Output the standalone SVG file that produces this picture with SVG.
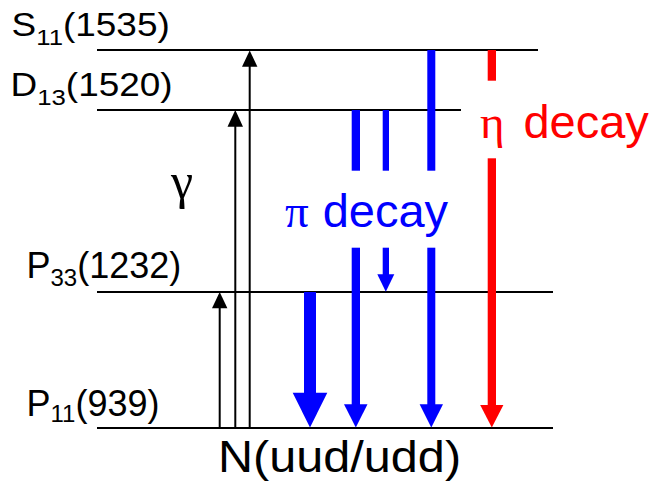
<svg xmlns="http://www.w3.org/2000/svg" width="654" height="483" viewBox="0 0 654 483">
<style>
.lvl{stroke:#000;stroke-width:2;fill:none}
.lab{font-family:"Liberation Sans",Arial,sans-serif;fill:#000}
.grk{font-family:"Liberation Serif","Times New Roman",serif}
.sans{font-family:"Liberation Sans",Arial,sans-serif}
.blk{stroke:#000;stroke-width:2;fill:none}
.bh{fill:#000}
.blue{fill:#0000FF}
.red{fill:#FF0000}
</style>
<rect width="654" height="483" fill="#fff"/>
<g id="level-S11">
<line class="lvl" x1="97" y1="50" x2="538" y2="50"/>
<text class="lab" font-size="33" transform="translate(11.6 35.5) scale(1.12 1)">S<tspan font-size="23" dy="9.5">11</tspan><tspan dy="-9.5">(1535)</tspan></text>
</g>
<g id="level-D13">
<line class="lvl" x1="97" y1="110" x2="461" y2="110"/>
<text class="lab" font-size="33" transform="translate(10.5 95.5) scale(1.12 1)">D<tspan font-size="23" dy="9.5">13</tspan><tspan dy="-9.5">(1520)</tspan></text>
</g>
<g id="level-P33">
<line class="lvl" x1="97" y1="292" x2="553" y2="292"/>
<text class="lab" font-size="36" x="26.5" y="277.7">P<tspan font-size="24" dy="8">33</tspan><tspan dy="-8">(1232)</tspan></text>
</g>
<g id="level-P11">
<line class="lvl" x1="97" y1="428" x2="553" y2="428"/>
<text class="lab" font-size="36" x="26.5" y="415.7">P<tspan font-size="24" dy="6">11</tspan><tspan dy="-6">(939)</tspan></text>
</g>
<g id="label-N">
<text class="lab" font-size="44.3" transform="translate(218 471.7) scale(1.097 1)">N(uud/udd)</text>
</g>
<g id="label-gamma">
<text class="grk" font-size="50" x="171" y="198" fill="#000">γ</text>
</g>
<g id="label-pi">
<text class="grk blue" font-size="47" x="285" y="226.7">π</text>
<text class="sans blue" font-size="47" x="322.7" y="226.7">decay</text>
</g>
<g id="label-eta">
<text class="grk red" font-size="47" x="480" y="138.3">η</text>
<text class="sans red" font-size="47" x="523.4" y="138.3">decay</text>
</g>
<g id="connectors">
<line class="blk" x1="219.7" y1="428" x2="219.7" y2="307"/>
<polygon class="bh" points="212,308.3 227.4,308.3 219.7,292"/>
<line class="blk" x1="235.3" y1="428" x2="235.3" y2="126"/>
<polygon class="bh" points="227.5,126.7 243,126.7 235.3,110"/>
<line class="blk" x1="249.7" y1="428" x2="249.7" y2="66"/>
<polygon class="bh" points="242,66.7 257.4,66.7 249.7,50.5"/>
<rect class="blue" x="304" y="292" width="12" height="101.5"/>
<polygon class="blue" points="292.7,392.7 327.3,392.7 310,427.5"/>
<rect class="blue" x="351.7" y="110" width="8.3" height="60.7"/>
<rect class="blue" x="351.7" y="247.7" width="8.3" height="157.3"/>
<polygon class="blue" points="344,404.3 367.5,404.3 355.8,427.5"/>
<rect class="blue" x="382.7" y="110" width="6.3" height="60.7"/>
<rect class="blue" x="382.7" y="247.7" width="6.3" height="27.3"/>
<polygon class="blue" points="377.3,274.3 394.3,274.3 385.8,291.7"/>
<rect class="blue" x="427.3" y="50" width="8" height="120.7"/>
<rect class="blue" x="427.3" y="247.7" width="8" height="157.3"/>
<polygon class="blue" points="419.6,404.3 443,404.3 431.3,427.5"/>
<rect class="red" x="487.7" y="50" width="8.3" height="30.7"/>
<rect class="red" x="487.7" y="158.3" width="8.3" height="247.4"/>
<polygon class="red" points="480.2,405 503.4,405 491.8,427.5"/>
</g>
</svg>
